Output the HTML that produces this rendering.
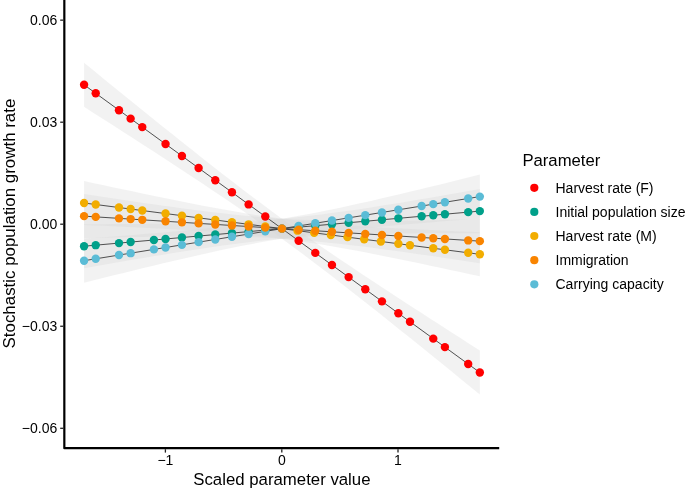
<!DOCTYPE html>
<html><head><meta charset="utf-8"><title>Sensitivity plot</title>
<style>
html,body{margin:0;padding:0;background:#fff;}
body{width:685px;height:490px;overflow:hidden;}
svg{display:block;font-family:"Liberation Sans",Arial,sans-serif;}
.t{font-size:14px;fill:#000;}
.h{font-size:16.8px;fill:#000;}
</style></head><body>
<svg width="685" height="490" viewBox="0 0 685 490">
<rect width="685" height="490" fill="#fff"/>
<g>
<path d="M84.07 62.77 L93.96 70.84 L103.86 78.89 L113.75 86.93 L123.65 94.96 L133.54 102.97 L143.43 110.96 L153.33 118.94 L163.22 126.89 L173.12 134.82 L183.01 142.72 L192.90 150.58 L202.80 158.40 L212.69 166.17 L222.59 173.89 L232.48 181.55 L242.37 189.14 L252.27 196.65 L262.16 204.07 L272.06 211.41 L281.95 218.65 L291.84 225.79 L301.74 232.84 L311.63 239.80 L321.53 246.68 L331.42 253.47 L341.31 260.20 L351.21 266.87 L361.10 273.48 L371.00 280.04 L380.89 286.57 L390.78 293.05 L400.68 299.51 L410.57 305.94 L420.47 312.35 L430.36 318.74 L440.25 325.12 L450.15 331.47 L460.04 337.82 L469.94 344.15 L479.83 350.47 L479.83 394.53 L469.94 386.46 L460.04 378.41 L450.15 370.37 L440.25 362.34 L430.36 354.33 L420.47 346.34 L410.57 338.36 L400.68 330.41 L390.78 322.48 L380.89 314.58 L371.00 306.72 L361.10 298.90 L351.21 291.13 L341.31 283.41 L331.42 275.75 L321.53 268.16 L311.63 260.65 L301.74 253.23 L291.84 245.89 L281.95 238.65 L272.06 231.51 L262.16 224.46 L252.27 217.50 L242.37 210.62 L232.48 203.83 L222.59 197.10 L212.69 190.43 L202.80 183.82 L192.90 177.26 L183.01 170.73 L173.12 164.25 L163.22 157.79 L153.33 151.36 L143.43 144.95 L133.54 138.56 L123.65 132.18 L113.75 125.83 L103.86 119.48 L93.96 113.15 L84.07 106.83Z" fill="#D3D3D3" fill-opacity="0.3"/>
<path d="M84.07 224.17 L93.96 224.17 L103.86 224.15 L113.75 224.12 L123.65 224.08 L133.54 224.02 L143.43 223.94 L153.33 223.85 L163.22 223.73 L173.12 223.59 L183.01 223.42 L192.90 223.21 L202.80 222.96 L212.69 222.66 L222.59 222.31 L232.48 221.90 L242.37 221.42 L252.27 220.86 L262.16 220.21 L272.06 219.48 L281.95 218.65 L291.84 217.72 L301.74 216.70 L311.63 215.59 L321.53 214.40 L331.42 213.12 L341.31 211.78 L351.21 210.38 L361.10 208.92 L371.00 207.41 L380.89 205.87 L390.78 204.28 L400.68 202.67 L410.57 201.03 L420.47 199.37 L430.36 197.69 L440.25 196.00 L450.15 194.28 L460.04 192.56 L469.94 190.82 L479.83 189.07 L479.83 233.13 L469.94 233.13 L460.04 233.15 L450.15 233.18 L440.25 233.22 L430.36 233.28 L420.47 233.36 L410.57 233.45 L400.68 233.57 L390.78 233.71 L380.89 233.88 L371.00 234.09 L361.10 234.34 L351.21 234.64 L341.31 234.99 L331.42 235.40 L321.53 235.88 L311.63 236.44 L301.74 237.09 L291.84 237.82 L281.95 238.65 L272.06 239.58 L262.16 240.60 L252.27 241.71 L242.37 242.90 L232.48 244.18 L222.59 245.52 L212.69 246.92 L202.80 248.38 L192.90 249.89 L183.01 251.43 L173.12 253.02 L163.22 254.63 L153.33 256.27 L143.43 257.93 L133.54 259.61 L123.65 261.30 L113.75 263.02 L103.86 264.74 L93.96 266.48 L84.07 268.23Z" fill="#D3D3D3" fill-opacity="0.3"/>
<path d="M84.07 180.97 L93.96 183.13 L103.86 185.27 L113.75 187.40 L123.65 189.52 L133.54 191.62 L143.43 193.70 L153.33 195.77 L163.22 197.81 L173.12 199.83 L183.01 201.82 L192.90 203.77 L202.80 205.68 L212.69 207.54 L222.59 209.35 L232.48 211.10 L242.37 212.78 L252.27 214.38 L262.16 215.89 L272.06 217.32 L281.95 218.65 L291.84 219.88 L301.74 221.02 L311.63 222.07 L321.53 223.04 L331.42 223.92 L341.31 224.74 L351.21 225.50 L361.10 226.20 L371.00 226.85 L380.89 227.47 L390.78 228.04 L400.68 228.59 L410.57 229.11 L420.47 229.61 L430.36 230.09 L440.25 230.56 L450.15 231.00 L460.04 231.44 L469.94 231.86 L479.83 232.27 L479.83 276.33 L469.94 274.17 L460.04 272.03 L450.15 269.90 L440.25 267.78 L430.36 265.68 L420.47 263.60 L410.57 261.53 L400.68 259.49 L390.78 257.47 L380.89 255.48 L371.00 253.53 L361.10 251.62 L351.21 249.76 L341.31 247.95 L331.42 246.20 L321.53 244.52 L311.63 242.92 L301.74 241.41 L291.84 239.98 L281.95 238.65 L272.06 237.42 L262.16 236.28 L252.27 235.23 L242.37 234.26 L232.48 233.38 L222.59 232.56 L212.69 231.80 L202.80 231.10 L192.90 230.45 L183.01 229.83 L173.12 229.26 L163.22 228.71 L153.33 228.19 L143.43 227.69 L133.54 227.21 L123.65 226.74 L113.75 226.30 L103.86 225.86 L93.96 225.44 L84.07 225.03Z" fill="#D3D3D3" fill-opacity="0.3"/>
<path d="M84.07 238.67 L93.96 237.94 L103.86 237.20 L113.75 236.44 L123.65 235.68 L133.54 234.89 L143.43 234.09 L153.33 233.27 L163.22 232.43 L173.12 231.56 L183.01 230.67 L192.90 229.73 L202.80 228.76 L212.69 227.74 L222.59 226.66 L232.48 225.52 L242.37 224.32 L252.27 223.03 L262.16 221.66 L272.06 220.20 L281.95 218.65 L291.84 217.00 L301.74 215.25 L311.63 213.42 L321.53 211.50 L331.42 209.50 L341.31 207.43 L351.21 205.30 L361.10 203.12 L371.00 200.89 L380.89 198.62 L390.78 196.31 L400.68 193.97 L410.57 191.61 L420.47 189.22 L430.36 186.82 L440.25 184.40 L450.15 181.96 L460.04 179.51 L469.94 177.05 L479.83 174.57 L479.83 218.63 L469.94 219.36 L460.04 220.10 L450.15 220.86 L440.25 221.62 L430.36 222.41 L420.47 223.21 L410.57 224.03 L400.68 224.87 L390.78 225.74 L380.89 226.63 L371.00 227.57 L361.10 228.54 L351.21 229.56 L341.31 230.64 L331.42 231.78 L321.53 232.98 L311.63 234.27 L301.74 235.64 L291.84 237.10 L281.95 238.65 L272.06 240.30 L262.16 242.05 L252.27 243.88 L242.37 245.80 L232.48 247.80 L222.59 249.87 L212.69 252.00 L202.80 254.18 L192.90 256.41 L183.01 258.68 L173.12 260.99 L163.22 263.33 L153.33 265.69 L143.43 268.08 L133.54 270.48 L123.65 272.90 L113.75 275.34 L103.86 277.79 L93.96 280.25 L84.07 282.73Z" fill="#D3D3D3" fill-opacity="0.3"/>
<path d="M84.07 194.12 L93.96 195.62 L103.86 197.10 L113.75 198.58 L123.65 200.04 L133.54 201.48 L143.43 202.91 L153.33 204.32 L163.22 205.70 L173.12 207.06 L183.01 208.39 L192.90 209.68 L202.80 210.94 L212.69 212.14 L222.59 213.30 L232.48 214.39 L242.37 215.41 L252.27 216.35 L262.16 217.21 L272.06 217.98 L281.95 218.65 L291.84 219.23 L301.74 219.71 L311.63 220.10 L321.53 220.41 L331.42 220.64 L341.31 220.80 L351.21 220.89 L361.10 220.94 L371.00 220.93 L380.89 220.89 L390.78 220.81 L400.68 220.70 L410.57 220.57 L420.47 220.41 L430.36 220.23 L440.25 220.04 L450.15 219.83 L460.04 219.60 L469.94 219.37 L479.83 219.12 L479.83 263.18 L469.94 261.68 L460.04 260.20 L450.15 258.72 L440.25 257.26 L430.36 255.82 L420.47 254.39 L410.57 252.98 L400.68 251.60 L390.78 250.24 L380.89 248.91 L371.00 247.62 L361.10 246.36 L351.21 245.16 L341.31 244.00 L331.42 242.91 L321.53 241.89 L311.63 240.95 L301.74 240.09 L291.84 239.32 L281.95 238.65 L272.06 238.07 L262.16 237.59 L252.27 237.20 L242.37 236.89 L232.48 236.66 L222.59 236.50 L212.69 236.41 L202.80 236.36 L192.90 236.37 L183.01 236.41 L173.12 236.49 L163.22 236.60 L153.33 236.73 L143.43 236.89 L133.54 237.07 L123.65 237.26 L113.75 237.47 L103.86 237.70 L93.96 237.93 L84.07 238.18Z" fill="#D3D3D3" fill-opacity="0.3"/>
<line x1="84.07" y1="84.80" x2="479.83" y2="372.50" stroke="#333" stroke-width="0.85"/>
<line x1="84.07" y1="246.20" x2="479.83" y2="211.10" stroke="#333" stroke-width="0.85"/>
<line x1="84.07" y1="203.00" x2="479.83" y2="254.30" stroke="#333" stroke-width="0.85"/>
<line x1="84.07" y1="260.70" x2="479.83" y2="196.60" stroke="#333" stroke-width="0.85"/>
<line x1="84.07" y1="216.15" x2="479.83" y2="241.15" stroke="#333" stroke-width="0.85"/>
<g fill="#FF0000"><circle cx="84.07" cy="84.80" r="4.2"/><circle cx="95.71" cy="93.26" r="4.2"/><circle cx="118.99" cy="110.19" r="4.2"/><circle cx="130.63" cy="118.65" r="4.2"/><circle cx="142.27" cy="127.11" r="4.2"/><circle cx="165.55" cy="144.03" r="4.2"/><circle cx="181.94" cy="155.95" r="4.2"/><circle cx="198.61" cy="168.06" r="4.2"/><circle cx="215.28" cy="180.18" r="4.2"/><circle cx="231.94" cy="192.30" r="4.2"/><circle cx="248.61" cy="204.42" r="4.2"/><circle cx="265.28" cy="216.53" r="4.2"/><circle cx="281.95" cy="228.65" r="4.2"/><circle cx="298.62" cy="240.77" r="4.2"/><circle cx="315.29" cy="252.88" r="4.2"/><circle cx="331.96" cy="265.00" r="4.2"/><circle cx="348.62" cy="277.12" r="4.2"/><circle cx="365.29" cy="289.24" r="4.2"/><circle cx="381.96" cy="301.35" r="4.2"/><circle cx="398.35" cy="313.27" r="4.2"/><circle cx="409.99" cy="321.73" r="4.2"/><circle cx="433.27" cy="338.65" r="4.2"/><circle cx="444.91" cy="347.11" r="4.2"/><circle cx="468.19" cy="364.04" r="4.2"/><circle cx="479.83" cy="372.50" r="4.2"/></g>
<g fill="#00A08A"><circle cx="84.07" cy="246.20" r="4.2"/><circle cx="95.71" cy="245.17" r="4.2"/><circle cx="118.99" cy="243.10" r="4.2"/><circle cx="130.63" cy="242.07" r="4.2"/><circle cx="153.91" cy="240.01" r="4.2"/><circle cx="165.55" cy="238.97" r="4.2"/><circle cx="181.94" cy="237.52" r="4.2"/><circle cx="198.61" cy="236.04" r="4.2"/><circle cx="215.28" cy="234.56" r="4.2"/><circle cx="231.94" cy="233.08" r="4.2"/><circle cx="248.61" cy="231.61" r="4.2"/><circle cx="265.28" cy="230.13" r="4.2"/><circle cx="281.95" cy="228.65" r="4.2"/><circle cx="298.62" cy="227.17" r="4.2"/><circle cx="315.29" cy="225.69" r="4.2"/><circle cx="331.96" cy="224.22" r="4.2"/><circle cx="348.62" cy="222.74" r="4.2"/><circle cx="365.29" cy="221.26" r="4.2"/><circle cx="381.96" cy="219.78" r="4.2"/><circle cx="398.35" cy="218.33" r="4.2"/><circle cx="421.63" cy="216.26" r="4.2"/><circle cx="433.27" cy="215.23" r="4.2"/><circle cx="444.91" cy="214.20" r="4.2"/><circle cx="468.19" cy="212.13" r="4.2"/><circle cx="479.83" cy="211.10" r="4.2"/></g>
<g fill="#F2AD00"><circle cx="84.07" cy="203.00" r="4.2"/><circle cx="95.71" cy="204.51" r="4.2"/><circle cx="118.99" cy="207.53" r="4.2"/><circle cx="130.63" cy="209.04" r="4.2"/><circle cx="142.27" cy="210.54" r="4.2"/><circle cx="165.55" cy="213.56" r="4.2"/><circle cx="181.94" cy="215.69" r="4.2"/><circle cx="198.61" cy="217.85" r="4.2"/><circle cx="215.28" cy="220.01" r="4.2"/><circle cx="231.94" cy="222.17" r="4.2"/><circle cx="248.61" cy="224.33" r="4.2"/><circle cx="265.28" cy="226.49" r="4.2"/><circle cx="281.95" cy="228.65" r="4.2"/><circle cx="297.52" cy="230.67" r="4.2"/><circle cx="314.19" cy="232.83" r="4.2"/><circle cx="330.86" cy="234.99" r="4.2"/><circle cx="347.52" cy="237.15" r="4.2"/><circle cx="364.19" cy="239.31" r="4.2"/><circle cx="380.86" cy="241.47" r="4.2"/><circle cx="398.35" cy="243.74" r="4.2"/><circle cx="409.99" cy="245.25" r="4.2"/><circle cx="433.27" cy="248.26" r="4.2"/><circle cx="444.91" cy="249.77" r="4.2"/><circle cx="468.19" cy="252.79" r="4.2"/><circle cx="479.83" cy="254.30" r="4.2"/></g>
<g fill="#5BBCD6"><circle cx="84.07" cy="260.70" r="4.2"/><circle cx="95.71" cy="258.81" r="4.2"/><circle cx="118.99" cy="255.04" r="4.2"/><circle cx="130.63" cy="253.16" r="4.2"/><circle cx="153.91" cy="249.39" r="4.2"/><circle cx="165.55" cy="247.50" r="4.2"/><circle cx="181.94" cy="244.85" r="4.2"/><circle cx="198.61" cy="242.15" r="4.2"/><circle cx="215.28" cy="239.45" r="4.2"/><circle cx="231.94" cy="236.75" r="4.2"/><circle cx="248.61" cy="234.05" r="4.2"/><circle cx="265.28" cy="231.35" r="4.2"/><circle cx="281.95" cy="228.65" r="4.2"/><circle cx="298.62" cy="225.95" r="4.2"/><circle cx="315.29" cy="223.25" r="4.2"/><circle cx="331.96" cy="220.55" r="4.2"/><circle cx="348.62" cy="217.85" r="4.2"/><circle cx="365.29" cy="215.15" r="4.2"/><circle cx="381.96" cy="212.45" r="4.2"/><circle cx="398.35" cy="209.80" r="4.2"/><circle cx="421.63" cy="206.03" r="4.2"/><circle cx="433.27" cy="204.14" r="4.2"/><circle cx="444.91" cy="202.26" r="4.2"/><circle cx="468.19" cy="198.49" r="4.2"/><circle cx="479.83" cy="196.60" r="4.2"/></g>
<g fill="#F98400"><circle cx="84.07" cy="216.15" r="4.2"/><circle cx="95.71" cy="216.89" r="4.2"/><circle cx="118.99" cy="218.36" r="4.2"/><circle cx="130.63" cy="219.09" r="4.2"/><circle cx="142.27" cy="219.83" r="4.2"/><circle cx="165.55" cy="221.30" r="4.2"/><circle cx="181.94" cy="222.33" r="4.2"/><circle cx="198.61" cy="223.39" r="4.2"/><circle cx="215.28" cy="224.44" r="4.2"/><circle cx="231.94" cy="225.49" r="4.2"/><circle cx="248.61" cy="226.54" r="4.2"/><circle cx="265.28" cy="227.60" r="4.2"/><circle cx="281.95" cy="228.65" r="4.2"/><circle cx="298.62" cy="229.70" r="4.2"/><circle cx="315.29" cy="230.76" r="4.2"/><circle cx="331.96" cy="231.81" r="4.2"/><circle cx="348.62" cy="232.86" r="4.2"/><circle cx="365.29" cy="233.91" r="4.2"/><circle cx="381.96" cy="234.97" r="4.2"/><circle cx="398.35" cy="236.00" r="4.2"/><circle cx="421.63" cy="237.47" r="4.2"/><circle cx="433.27" cy="238.21" r="4.2"/><circle cx="444.91" cy="238.94" r="4.2"/><circle cx="468.19" cy="240.41" r="4.2"/><circle cx="479.83" cy="241.15" r="4.2"/></g>
</g>
<path d="M64.33 -2 V448.15 H499.2" fill="none" stroke="#000" stroke-width="2.2" stroke-linejoin="round"/>
<g class="t">
<line x1="60.2" y1="20.15" x2="63.3" y2="20.15" stroke="#222" stroke-width="1.3"/>
<text x="57.3" y="25.00" text-anchor="end">0.06</text>
<line x1="60.2" y1="122.20" x2="63.3" y2="122.20" stroke="#222" stroke-width="1.3"/>
<text x="57.3" y="127.05" text-anchor="end">0.03</text>
<line x1="60.2" y1="224.20" x2="63.3" y2="224.20" stroke="#222" stroke-width="1.3"/>
<text x="57.3" y="229.05" text-anchor="end">0.00</text>
<line x1="60.2" y1="326.25" x2="63.3" y2="326.25" stroke="#222" stroke-width="1.3"/>
<text x="57.3" y="331.10" text-anchor="end">−0.03</text>
<line x1="60.2" y1="428.30" x2="63.3" y2="428.30" stroke="#222" stroke-width="1.3"/>
<text x="57.3" y="433.15" text-anchor="end">−0.06</text>
<line x1="165.4" y1="449.2" x2="165.4" y2="452.6" stroke="#222" stroke-width="1.3"/>
<text x="165.4" y="465.3" text-anchor="middle">−1</text>
<line x1="281.8" y1="449.2" x2="281.8" y2="452.6" stroke="#222" stroke-width="1.3"/>
<text x="281.8" y="465.3" text-anchor="middle">0</text>
<line x1="398.0" y1="449.2" x2="398.0" y2="452.6" stroke="#222" stroke-width="1.3"/>
<text x="398.0" y="465.3" text-anchor="middle">1</text>
</g>
<text class="h" x="281.9" y="485" text-anchor="middle">Scaled parameter value</text>
<text class="h" style="font-size:16.9px" transform="translate(14.75 223.55) rotate(-90)" text-anchor="middle">Stochastic population growth rate</text>
<text class="h" style="font-size:16.7px" x="522.4" y="165.5">Parameter</text>
<g class="t">
<circle cx="534.3" cy="187.8" r="4.1" fill="#FF0000"/>
<text x="555.5" y="192.9">Harvest rate (F)</text>
<circle cx="534.3" cy="211.9" r="4.1" fill="#00A08A"/>
<text x="555.5" y="217.0">Initial population size</text>
<circle cx="534.3" cy="236.0" r="4.1" fill="#F2AD00"/>
<text x="555.5" y="241.1">Harvest rate (M)</text>
<circle cx="534.3" cy="260.2" r="4.1" fill="#F98400"/>
<text x="555.5" y="265.3">Immigration</text>
<circle cx="534.3" cy="284.3" r="4.1" fill="#5BBCD6"/>
<text x="555.5" y="289.4">Carrying capacity</text>
</g>
</svg>
</body></html>
